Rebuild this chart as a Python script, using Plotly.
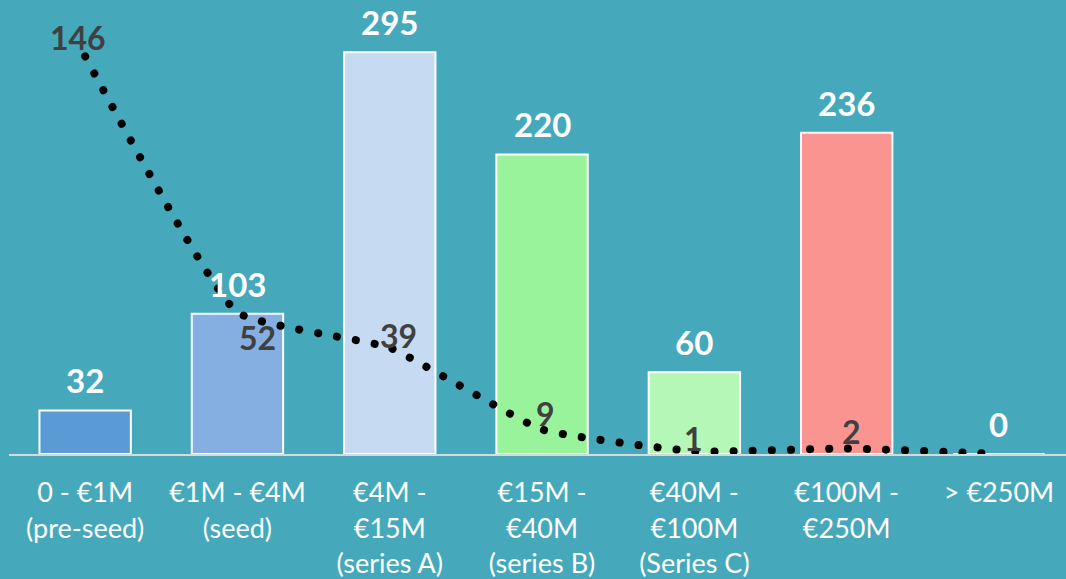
import plotly.graph_objects as go

categories = ["0 - €1M<br>(pre-seed)", "€1M - €4M<br>(seed)", "€4M -<br>€15M<br>(series A)",
              "€15M -<br>€40M<br>(series B)", "€40M -<br>€100M<br>(Series C)", "€100M -<br>€250M",
              "> €250M"]
bar_values = [32, 103, 295, 220, 60, 236, 0]
line_values = [146, 52, 39, 9, 1, 2, 0]
line_labels = ["146", "52", "39", "9", "1", "2", ""]
bar_colors = ["#5B9BD5", "#85AFE1", "#C6DAF1", "#98F39A", "#B4F7B6", "#FA9491", "#FA9491"]
label_dx = [-7, 20, 9, 3, -1, 5, 0]
label_dy = [19, -25, 12, 16, 13, 17, 0]

BG = "#45A9BB"
FONT = "Lato"

x = list(range(len(categories)))

fig = go.Figure()
fig.add_trace(go.Bar(
    x=x, y=bar_values, width=0.6,
    marker=dict(color=bar_colors, line=dict(color="white", width=2)),
    yaxis="y",
))
fig.add_trace(go.Scatter(
    x=x, y=line_values, mode="lines", yaxis="y2",
    line=dict(color="black", width=8, dash="8px,11px", shape="spline", smoothing=0.4),
    cliponaxis=False,
))
for xi, v in zip(x, bar_values):
    fig.add_annotation(x=xi, y=v, yref="y", text=f"<b>{v}</b>", showarrow=False,
                       yanchor="middle", yshift=30,
                       font=dict(family=FONT, size=33, color="white"))
for xi, v, t, dx, dy in zip(x, line_values, line_labels, label_dx, label_dy):
    if t:
        fig.add_annotation(x=xi, y=v, yref="y2", text=f"<b>{t}</b>", showarrow=False,
                           xshift=dx, yshift=dy,
                           font=dict(family=FONT, size=32, color="#404040"))

fig.update_layout(
    width=1066, height=579,
    margin=dict(l=9, r=0, t=0, b=125),
    paper_bgcolor=BG, plot_bgcolor=BG,
    showlegend=False,
    xaxis=dict(tickmode="array", tickvals=x, ticktext=categories, range=[-0.5, 6.44],
               showgrid=False, zeroline=False, showline=True, linecolor="#D9D9D9", linewidth=2,
               ticks="outside", ticklen=0, tickcolor=BG, ticklabelstandoff=14, automargin=False,
               tickfont=dict(family=FONT, size=27, color="white")),
    yaxis=dict(range=[0, 333.4], visible=False, showgrid=False, zeroline=False, automargin=False),
    yaxis2=dict(range=[0, 166.7], overlaying="y", side="right", visible=False,
                showgrid=False, zeroline=False, automargin=False),
)

post = """
document.body.style.margin='0';
document.body.style.background='%s';
document.querySelectorAll('.scatterlayer .js-line').forEach(function(p){
  p.style.strokeLinecap='round';
  p.style.strokeDasharray='0.1px,19px';
});
""" % BG

fig.write_html("out.html", config={"displayModeBar": False}, post_script=post)
